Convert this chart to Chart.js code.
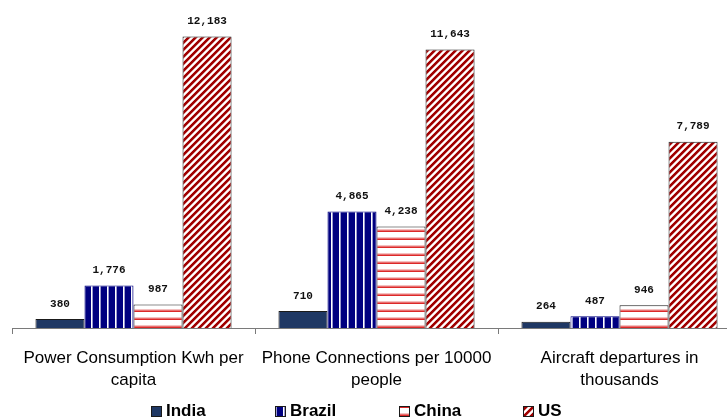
<!DOCTYPE html>
<html>
<head>
<meta charset="utf-8">
<script src="https://cdn.jsdelivr.net/npm/chart.js@4/dist/chart.umd.min.js"></script>
<style>
  html, body { margin: 0; padding: 0; background: #fff; overflow: hidden; }
  #wrap { width: 727px; height: 419px; overflow: hidden; }
</style>
</head>
<body>
<div id="wrap"><canvas id="chart" width="745" height="419"></canvas></div>
<script>
// data
const categories = [
    ["Power Consumption Kwh per", "capita"],
    ["Phone Connections per 10000", "people"],
    ["Aircraft departures in", "thousands"],
];
const seriesNames = ["India", "Brazil", "China", "US"];
const india = [380, 710, 264];
const brazil = [1776, 4865, 487];
const china = [987, 4238, 946];
const us = [12183, 11643, 7789];

// small tile patterns like the old Excel fills
function makeTile(size, painter) {
    const c = document.createElement("canvas");
    c.width = size;
    c.height = size;
    const g = c.getContext("2d");
    painter(g, size);
    return g.createPattern(c, "repeat");
}

const navy = "#1f3864";
const brazilFill = makeTile(8, function (g, s) {
    g.fillStyle = "#000080";
    g.fillRect(0, 0, s, s);
    g.fillStyle = "#ffffff";
    g.fillRect(3, 0, 1, s);
    g.fillStyle = "#9a9ad0";
    g.fillRect(4, 0, 1, s);
});
const chinaFill = makeTile(8, function (g, s) {
    g.fillStyle = "#ffffff";
    g.fillRect(0, 0, s, s);
    g.fillStyle = "#f4c0c0";
    g.fillRect(0, 5, s, 1);
    g.fillStyle = "#e87070";
    g.fillRect(0, 6, s, 1);
    g.fillStyle = "#dc2828";
    g.fillRect(0, 7, s, 1);
});
const usFill = makeTile(7, function (g, s) {
    for (let x = 0; x < s; x++) {
        for (let y = 0; y < s; y++) {
            const d = (x + y) % s;
            let col = "#ffffff";
            if (d <= 2) col = "#a00000";
            else if (d === 3) col = "#d99090";
            else if (d === 6) col = "#eec4c4";
            g.fillStyle = col;
            g.fillRect(x, y, 1, 1);
        }
    }
});

const fills = [navy, brazilFill, chinaFill, usFill];
const borders = ["#1a1a1a", "#000080", "#1a1a1a", "#1a1a1a"];

// value labels above each bar
const valueLabels = {
    id: "valueLabels",
    afterDatasetsDraw(chart) {
        const ctx = chart.ctx;
        ctx.save();
        ctx.font = "bold 11px 'Liberation Mono', 'Courier New', monospace";
        ctx.fillStyle = "#111";
        ctx.textAlign = "center";
        ctx.textBaseline = "middle";
        chart.data.datasets.forEach(function (ds, i) {
            chart.getDatasetMeta(i).data.forEach(function (bar, j) {
                ctx.fillText(ds.data[j].toLocaleString("en-US"), bar.x, bar.y - 15);
            });
        });
        ctx.restore();
    },
};

// legend row at the bottom, evenly spaced like excel does it
const bottomLegend = {
    id: "bottomLegend",
    afterDraw(chart) {
        const ctx = chart.ctx;
        const y = 411;
        ctx.save();
        ctx.font = "bold 17px 'Liberation Sans', Arial, sans-serif";
        ctx.textBaseline = "middle";
        ctx.textAlign = "left";
        chart.data.datasets.forEach(function (ds, i) {
            const x = 151 + i * 124;
            ctx.fillStyle = ds.backgroundColor;
            ctx.fillRect(x, y - 5, 11, 11);
            ctx.strokeStyle = "#1a1a1a";
            ctx.lineWidth = 1;
            ctx.strokeRect(x + 0.5, y - 4.5, 10, 10);
            ctx.fillStyle = "#000";
            ctx.fillText(ds.label, x + 15, y);
        });
        ctx.restore();
    },
};

const datasets = [india, brazil, china, us].map(function (vals, i) {
    return {
        label: seriesNames[i],
        data: vals,
        backgroundColor: fills[i],
        borderColor: borders[i],
        borderWidth: 1,
        barPercentage: 1,
        categoryPercentage: 0.807,
    };
});

new Chart(document.getElementById("chart"), {
    type: "bar",
    data: { labels: categories, datasets: datasets },
    plugins: [valueLabels, bottomLegend],
    options: {
        responsive: false,
        animation: false,
        devicePixelRatio: 1,
        layout: { padding: { top: 17, left: 12, right: 4, bottom: 15 } },
        scales: {
            x: {
                grid: {
                    display: true,
                    drawOnChartArea: false,
                    drawTicks: true,
                    tickLength: 6,
                    color: "#7a7a7a",
                    offset: true,
                },
                border: { color: "#7a7a7a" },
                ticks: {
                    color: "#000",
                    autoSkip: false,
                    maxRotation: 0,
                    minRotation: 0,
                    padding: 13,
                    font: { family: "'Liberation Sans', Arial, sans-serif", size: 17, lineHeight: "22px" },
                },
            },
            y: { display: false, min: 0, max: 13000 },
        },
        plugins: {
            legend: { display: false },
            tooltip: { enabled: false },
        },
    },
});
</script>
</body>
</html>
